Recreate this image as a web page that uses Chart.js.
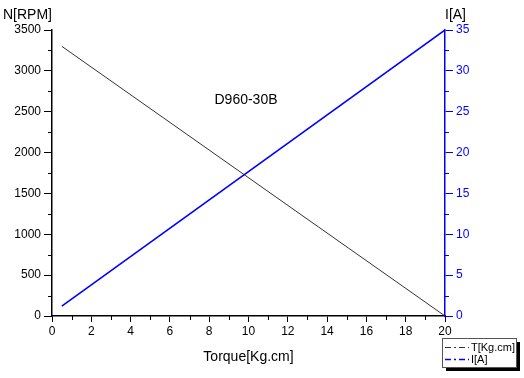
<!DOCTYPE html>
<html><head><meta charset="utf-8">
<script src="https://cdn.jsdelivr.net/npm/chart.js@4"></script>
<style>html,body{margin:0;padding:0;background:#fff}#wrap{width:524px;height:378px}</style>
</head><body><div id="wrap"><canvas id="c" width="524" height="378"></canvas></div>
<script>
const torque = [0.5, 20];
const speed = [3300, 0];
const current = [1.2, 35];
const seriesLabels = ['T[Kg.cm]', 'I[A]'];
const chartTitle = 'D960-30B';
const xTitle = 'Torque[Kg.cm]';
const yTitle = 'N[RPM]';
const y1Title = 'I[A]';
const BLUE = '#0000ff';
const FONT = '"Liberation Sans", Arial, sans-serif';

const extras = {
  id: 'extras',
  afterDraw(chart) {
    const ctx = chart.ctx, sx = chart.scales.x, sy = chart.scales.y, sy1 = chart.scales.y1;
    const a = chart.chartArea;
    ctx.save();
    ctx.lineWidth = 1;
    ctx.strokeStyle = '#000';
    ctx.beginPath();
    for (let v = 1; v < 20; v += 2) { const px = Math.round(sx.getPixelForValue(v)) + 0.5; ctx.moveTo(px, a.bottom); ctx.lineTo(px, a.bottom + 4); }
    for (let v = 250; v < 3500; v += 500) { const py = Math.round(sy.getPixelForValue(v)) + 0.5; ctx.moveTo(a.left, py); ctx.lineTo(a.left - 4, py); }
    ctx.stroke();
    ctx.strokeStyle = BLUE;
    ctx.beginPath();
    for (let v = 2.5; v < 35; v += 5) { const py = Math.round(sy1.getPixelForValue(v)) + 0.5; ctx.moveTo(a.right, py); ctx.lineTo(a.right + 4, py); }
    ctx.stroke();
    ctx.fillStyle = '#000';
    ctx.font = '14px ' + FONT;
    ctx.textBaseline = 'middle';
    ctx.textAlign = 'left';
    ctx.fillText(yTitle, 3, 15);
    ctx.fillText(y1Title, 445, 15);
    ctx.textAlign = 'center';
    ctx.fillText(chartTitle, 246, 100);
    const lx = 442, ly = 338, lw = 74, lh = 29;
    ctx.fillStyle = '#000';
    ctx.fillRect(lx + 4, ly + 4, lw, lh);
    ctx.fillStyle = '#fff';
    ctx.fillRect(lx, ly, lw, lh);
    ctx.strokeStyle = '#555';
    ctx.lineWidth = 1;
    ctx.strokeRect(lx + 0.5, ly + 0.5, lw, lh);
    const cols = ['#333', BLUE];
    ctx.font = '11px ' + FONT;
    ctx.textAlign = 'left';
    seriesLabels.forEach((t, i) => {
      const yy = ly + 9 + i * 12;
      ctx.strokeStyle = cols[i];
      ctx.lineWidth = i === 1 ? 1.5 : 1;
      ctx.setLineDash([6, 3, 2, 3]);
      ctx.beginPath(); ctx.moveTo(lx + 3, yy + 0.5); ctx.lineTo(lx + 27, yy + 0.5); ctx.stroke();
      ctx.setLineDash([]);
      ctx.fillStyle = '#000';
      ctx.fillText(t, lx + 29, yy + 1);
    });
    ctx.restore();
  }
};

const plain = v => String(v);

new Chart(document.getElementById('c'), {
  type: 'line',
  data: {
    datasets: [
      { label: seriesLabels[0], data: torque.map((x, i) => ({x, y: speed[i]})), borderColor: '#333', borderWidth: 1, pointRadius: 0, yAxisID: 'y' },
      { label: seriesLabels[1], data: torque.map((x, i) => ({x, y: current[i]})), borderColor: BLUE, borderWidth: 1.6, pointRadius: 0, yAxisID: 'y1' }
    ]
  },
  plugins: [extras],
  options: {
    responsive: false,
    animation: false,
    layout: { padding: { top: 30, left: 0, right: 0, bottom: 0 } },
    plugins: { legend: { display: false }, tooltip: { enabled: false } },
    scales: {
      x: {
        type: 'linear', min: 0, max: 20,
        ticks: { stepSize: 2, color: '#000', font: { size: 12, family: FONT }, padding: 2, callback: plain },
        grid: { drawOnChartArea: false, tickLength: 6, color: '#000' },
        border: { color: '#000', width: 1.5 },
        title: { display: true, text: xTitle, color: '#000', font: { size: 14, family: FONT }, padding: { top: 5, bottom: 12 } },
        afterFit(s) { s.height = 62; }
      },
      y: {
        position: 'left', min: 0, max: 3500,
        ticks: { stepSize: 500, color: '#000', font: { size: 12, family: FONT }, padding: 3, callback: plain },
        grid: { drawOnChartArea: false, tickLength: 8, color: '#000' },
        border: { color: '#000', width: 1.5 },
        afterFit(s) { s.width = 52; }
      },
      y1: {
        position: 'right', min: 0, max: 35,
        ticks: { stepSize: 5, color: BLUE, font: { size: 12, family: FONT }, padding: 3, callback: plain },
        grid: { drawOnChartArea: false, tickLength: 8, color: BLUE },
        border: { color: BLUE, width: 1.5 },
        afterFit(s) { s.width = 79; }
      }
    }
  }
});
</script>
</body></html>
